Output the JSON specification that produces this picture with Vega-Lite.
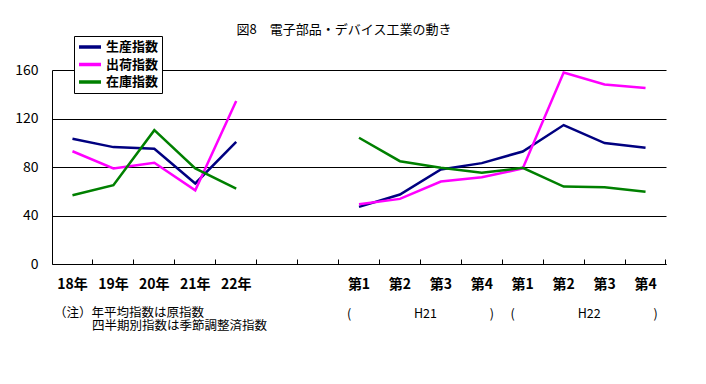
{
  "$schema": "https://vega.github.io/schema/vega-lite/v6.json",
  "width": 614,
  "height": 194,
  "autosize": "none",
  "padding": {"left": 52, "top": 70, "right": 40, "bottom": 120},
  "background": "white",
  "config": {"font": "Noto Sans CJK JP", "view": {"stroke": null}},
  "title": {"text": "図8　電子部品・デバイス工業の動き", "fontSize": 13, "fontWeight": "normal", "color": "black", "anchor": "middle", "dx": -15, "offset": -1},
  "resolve": {"axis": {"x": "independent", "y": "independent"}},
  "datasets": {
    "idx": [
      {"s": "生産指数", "g": "年", "x": "18年", "v": 103.3},
      {"s": "生産指数", "g": "年", "x": "19年", "v": 96.4},
      {"s": "生産指数", "g": "年", "x": "20年", "v": 95},
      {"s": "生産指数", "g": "年", "x": "21年", "v": 66.4},
      {"s": "生産指数", "g": "年", "x": "22年", "v": 100.8},
      {"s": "出荷指数", "g": "年", "x": "18年", "v": 93},
      {"s": "出荷指数", "g": "年", "x": "19年", "v": 78.8},
      {"s": "出荷指数", "g": "年", "x": "20年", "v": 83.5},
      {"s": "出荷指数", "g": "年", "x": "21年", "v": 60.8},
      {"s": "出荷指数", "g": "年", "x": "22年", "v": 134.4},
      {"s": "在庫指数", "g": "年", "x": "18年", "v": 56.7},
      {"s": "在庫指数", "g": "年", "x": "19年", "v": 65},
      {"s": "在庫指数", "g": "年", "x": "20年", "v": 110.4},
      {"s": "在庫指数", "g": "年", "x": "21年", "v": 78.8},
      {"s": "在庫指数", "g": "年", "x": "22年", "v": 62.2},
      {"s": "生産指数", "g": "期", "x": "21Q1", "v": 47.1},
      {"s": "生産指数", "g": "期", "x": "21Q2", "v": 57.3},
      {"s": "生産指数", "g": "期", "x": "21Q3", "v": 78},
      {"s": "生産指数", "g": "期", "x": "21Q4", "v": 83.2},
      {"s": "生産指数", "g": "期", "x": "22Q1", "v": 92.8},
      {"s": "生産指数", "g": "期", "x": "22Q2", "v": 114.6},
      {"s": "生産指数", "g": "期", "x": "22Q3", "v": 99.7},
      {"s": "生産指数", "g": "期", "x": "22Q4", "v": 95.9},
      {"s": "出荷指数", "g": "期", "x": "21Q1", "v": 49.3},
      {"s": "出荷指数", "g": "期", "x": "21Q2", "v": 53.7},
      {"s": "出荷指数", "g": "期", "x": "21Q3", "v": 68},
      {"s": "出荷指数", "g": "期", "x": "21Q4", "v": 71.6},
      {"s": "出荷指数", "g": "期", "x": "22Q1", "v": 78.8},
      {"s": "出荷指数", "g": "期", "x": "22Q2", "v": 157.9},
      {"s": "出荷指数", "g": "期", "x": "22Q3", "v": 148},
      {"s": "出荷指数", "g": "期", "x": "22Q4", "v": 145.1},
      {"s": "在庫指数", "g": "期", "x": "21Q1", "v": 104.1},
      {"s": "在庫指数", "g": "期", "x": "21Q2", "v": 84.8},
      {"s": "在庫指数", "g": "期", "x": "21Q3", "v": 79.3},
      {"s": "在庫指数", "g": "期", "x": "21Q4", "v": 75.2},
      {"s": "在庫指数", "g": "期", "x": "22Q1", "v": 79.3},
      {"s": "在庫指数", "g": "期", "x": "22Q2", "v": 63.9},
      {"s": "在庫指数", "g": "期", "x": "22Q3", "v": 63.3},
      {"s": "在庫指数", "g": "期", "x": "22Q4", "v": 59.5}
    ],
    "brk": [
      {"x": "21Q1", "t": "(", "role": "open"},
      {"x": "21Q2", "t": "H21", "role": "mid"},
      {"x": "21Q4", "t": ")", "role": "close"},
      {"x": "22Q1", "t": "(", "role": "open"},
      {"x": "22Q2", "t": "H22", "role": "mid"},
      {"x": "22Q4", "t": ")", "role": "close"}
    ],
    "notes": [
      {"t": "（注）年平均指数は原指数", "line": 1},
      {"t": "四半期別指数は季節調整済指数", "line": 2}
    ]
  },
  "layer": [
    {
      "data": {"name": "idx"},
      "mark": {"type": "line", "strokeWidth": 2.5},
      "encoding": {
        "x": {
          "field": "x", "type": "ordinal",
          "scale": {"type": "band", "domain": ["18年", "19年", "20年", "21年", "22年", "b1", "b2", "21Q1", "21Q2", "21Q3", "21Q4", "22Q1", "22Q2", "22Q3", "22Q4"], "paddingInner": 0, "paddingOuter": 0},
          "axis": {
            "title": null,
            "labelExpr": "indexof(datum.value, 'Q') >= 0 ? '第' + substring(datum.value, 3) : (indexof(datum.value, 'b') == 0 ? '' : datum.value)",
            "labelAngle": 0, "labelFontSize": 14, "labelFontWeight": "bold", "labelColor": "black", "labelPadding": 18,
            "bandPosition": 1,
            "tickSize": -5, "tickColor": "black", "tickWidth": 1,
            "domainColor": "black", "domainWidth": 1, "grid": false
          }
        },
        "y": {
          "field": "v", "type": "quantitative",
          "scale": {"domain": [0, 160], "nice": false, "zero": true},
          "axis": {
            "title": null, "values": [0, 40, 80, 120, 160], "ticks": false, "labelPadding": 14,
            "labelFontSize": 14, "labelColor": "black",
            "grid": true, "gridColor": "black", "gridOpacity": 1, "gridWidth": 1,
            "domainColor": "black", "domainWidth": 1
          }
        },
        "color": {
          "field": "s", "type": "nominal",
          "scale": {"domain": ["生産指数", "出荷指数", "在庫指数"], "range": ["#000080", "#FF00FF", "#008000"]},
          "legend": {
            "orient": "none", "legendX": 22, "legendY": -34, "title": null,
            "symbolType": "stroke", "symbolStrokeWidth": 3.5, "symbolSize": 484, "clipHeight": 16, "rowPadding": 1.5,
            "labelFontSize": 13, "labelFontWeight": "bold", "labelColor": "black", "labelOffset": 3, "labelLimit": 200,
            "padding": 3, "strokeColor": "black", "fillColor": "white"
          }
        },
        "detail": {"field": "g", "type": "nominal"}
      }
    },
    {
      "data": {"name": "notes"},
      "transform": [{"filter": "datum.line == 1"}],
      "mark": {"type": "text", "align": "left", "baseline": "middle", "dx": 2, "fontSize": 12.5, "color": "black"},
      "encoding": {
        "x": {"datum": "18年", "type": "ordinal", "bandPosition": 0, "axis": null},
        "y": {"datum": -40, "type": "quantitative", "axis": null},
        "text": {"field": "t"}
      }
    },
    {
      "data": {"name": "notes"},
      "transform": [{"filter": "datum.line == 2"}],
      "mark": {"type": "text", "align": "left", "baseline": "middle", "dx": 40, "fontSize": 12.5, "color": "black"},
      "encoding": {
        "x": {"datum": "18年", "type": "ordinal", "bandPosition": 0, "axis": null},
        "y": {"datum": -51.5, "type": "quantitative", "axis": null},
        "text": {"field": "t"}
      }
    },
    {
      "data": {"name": "brk"},
      "transform": [{"filter": "datum.role == 'open'"}],
      "mark": {"type": "text", "dx": -10, "fontSize": 12.5, "baseline": "middle", "color": "black"},
      "encoding": {
        "x": {"field": "x", "type": "ordinal", "axis": null},
        "y": {"datum": -41, "type": "quantitative", "axis": null},
        "text": {"field": "t"}
      }
    },
    {
      "data": {"name": "brk"},
      "transform": [{"filter": "datum.role == 'mid'"}],
      "mark": {"type": "text", "dx": 5, "fontSize": 12.5, "baseline": "middle", "color": "black"},
      "encoding": {
        "x": {"field": "x", "type": "ordinal", "bandPosition": 1, "axis": null},
        "y": {"datum": -41, "type": "quantitative", "axis": null},
        "text": {"field": "t"}
      }
    },
    {
      "data": {"name": "brk"},
      "transform": [{"filter": "datum.role == 'close'"}],
      "mark": {"type": "text", "dx": 10, "fontSize": 12.5, "baseline": "middle", "color": "black"},
      "encoding": {
        "x": {"field": "x", "type": "ordinal", "axis": null},
        "y": {"datum": -41, "type": "quantitative", "axis": null},
        "text": {"field": "t"}
      }
    }
  ]
}
